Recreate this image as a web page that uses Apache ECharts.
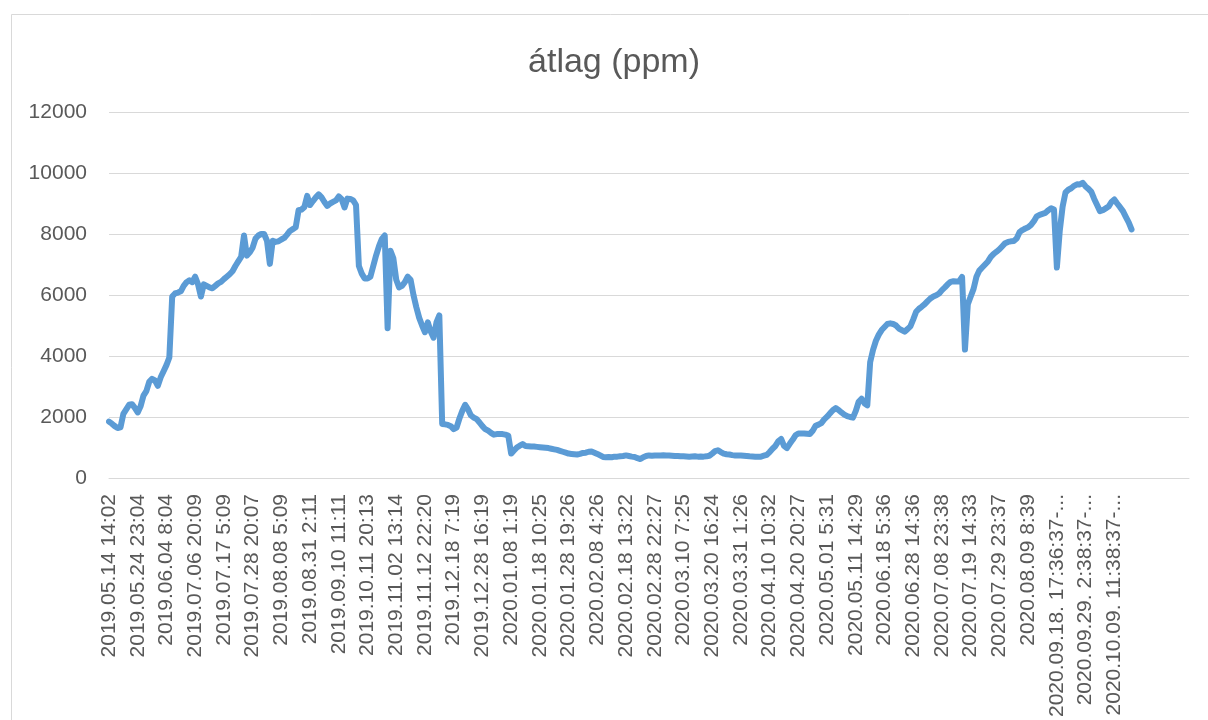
<!DOCTYPE html>
<html>
<head>
<meta charset="utf-8">
<script src="https://cdn.jsdelivr.net/npm/echarts@6/dist/echarts.min.js"></script>
<style>
html,body{margin:0;padding:0;background:#fff;}
#chart{width:1208px;height:720px;}
</style>
</head>
<body>
<div id="chart"></div>
<script>
const titleText = 'átlag (ppm)';
const tickLabels = [
  '2019.05.14 14:02','2019.05.24 23:04','2019.06.04 8:04','2019.07.06 20:09','2019.07.17 5:09',
  '2019.07.28 20:07','2019.08.08 5:09','2019.08.31 2:11','2019.09.10 11:11','2019.10.11 20:13',
  '2019.11.02 13:14','2019.11.12 22:20','2019.12.18 7:19','2019.12.28 16:19','2020.01.08 1:19',
  '2020.01.18 10:25','2020.01.28 19:26','2020.02.08 4:26','2020.02.18 13:22','2020.02.28 22:27',
  '2020.03.10 7:25','2020.03.20 16:24','2020.03.31 1:26','2020.04.10 10:32','2020.04.20 20:27',
  '2020.05.01 5:31','2020.05.11 14:29','2020.06.18 5:36','2020.06.28 14:36','2020.07.08 23:38',
  '2020.07.19 14:33','2020.07.29 23:37','2020.08.09 8:39','2020.09.18. 17:36:37-...',
  '2020.09.29. 2:38:37-...','2020.10.09. 11:38:37-...'
];
const pointsPerLabel = 10;
const totalSlots = 377;
const ppm = [
  1850,1780,1700,1640,1660,2100,2250,2400,2420,2300,
  2150,2350,2700,2850,3150,3250,3200,3020,3300,3500,
  3700,3950,5950,6050,6080,6120,6300,6420,6480,6420,
  6600,6350,5950,6350,6300,6250,6220,6300,6380,6430,
  6520,6600,6680,6780,6950,7100,7250,7950,7290,7400,
  7550,7850,7950,8000,8000,7780,7020,7780,7740,7760,
  7820,7870,7980,8100,8160,8220,8780,8800,8880,9250,
  8950,9080,9200,9300,9200,9050,8920,9000,9050,9100,
  9230,9140,8870,9160,9150,9100,8950,6950,6700,6540,
  6540,6600,6950,7300,7600,7840,7950,4910,7450,7200,
  6500,6250,6300,6420,6600,6500,6000,5600,5250,5000,
  4780,5100,4800,4600,5100,5330,1770,1760,1740,1700,
  1600,1650,1950,2200,2400,2250,2050,1980,1930,1820,
  1700,1600,1550,1480,1420,1440,1440,1440,1420,1390,
  800,900,1000,1060,1110,1050,1040,1030,1030,1020,
  1010,1000,990,980,960,940,920,890,860,830,
  800,790,780,770,790,820,830,860,870,830,
  790,740,690,680,690,680,700,700,715,720,
  740,720,700,690,650,620,680,720,740,730,
  740,735,740,745,740,740,730,720,720,710,
  710,705,700,705,710,700,705,700,710,730,
  800,880,910,850,800,780,770,750,740,740,
  740,730,720,710,705,700,700,700,730,760,
  850,960,1050,1200,1280,1050,980,1120,1250,1400,
  1460,1460,1460,1450,1440,1550,1710,1750,1800,1920,
  2010,2120,2220,2290,2230,2150,2080,2030,2000,1980,
  2200,2500,2600,2450,2380,3800,4200,4500,4700,4850,
  4950,5050,5070,5050,5000,4900,4850,4800,4880,4970,
  5200,5450,5550,5620,5700,5800,5890,5950,5990,6050,
  6160,6250,6350,6430,6450,6440,6450,6590,4210,5700,
  5950,6200,6600,6800,6900,7000,7100,7250,7350,7420,
  7500,7600,7700,7740,7760,7770,7850,8060,8130,8180,
  8220,8300,8420,8580,8630,8660,8690,8780,8840,8800,
  6900,8100,8900,9360,9450,9500,9580,9630,9620,9680,
  9560,9480,9380,9150,8950,8750,8780,8840,8900,9050,
  9130,9000,8880,8750,8560,8380,8150
];
const yTicks = {min: 0, max: 12000, interval: 2000};

const categories = [];
for (let i = 0; i < totalSlots; i++) {
  const k = i / pointsPerLabel;
  categories.push(i % pointsPerLabel === 0 && tickLabels[k] !== undefined ? tickLabels[k] : '');
}

const font = '"Liberation Sans", Arial, sans-serif';
const chart = echarts.init(document.getElementById('chart'), null, {renderer: 'canvas'});
chart.setOption({
  animation: false,
  backgroundColor: '#ffffff',
  graphic: [{
    type: 'rect', left: 9, top: 12, silent: true,
    shape: {width: 1320, height: 800},
    style: {fill: 'none', stroke: '#d9d9d9', lineWidth: 1}
  }],
  title: {
    text: titleText,
    left: 609, top: 41, textAlign: 'center',
    textStyle: {color: '#595959', fontSize: 34, fontWeight: 'normal', fontFamily: font}
  },
  grid: {left: 109, right: 19, top: 112, bottom: 239, containLabel: false},
  xAxis: {
    type: 'category',
    data: categories,
    boundaryGap: false,
    axisLine: {show: true, lineStyle: {color: '#d9d9d9', width: 1}},
    axisTick: {show: false},
    splitLine: {show: false},
    axisLabel: {
      interval: 0, rotate: 90, margin: 16,
      color: '#595959', fontSize: 21, fontFamily: font
    }
  },
  yAxis: {
    type: 'value',
    min: yTicks.min, max: yTicks.max, interval: yTicks.interval,
    axisLine: {show: false},
    axisTick: {show: false},
    splitLine: {show: true, lineStyle: {color: '#d9d9d9', width: 1}},
    axisLabel: {color: '#595959', fontSize: 21, fontFamily: font, margin: 22,
      formatter: function (v) { return String(v); }}
  },
  series: [{
    type: 'line',
    data: ppm,
    showSymbol: false,
    symbol: 'none',
    connectNulls: false,
    lineStyle: {color: '#5b9bd5', width: 6, cap: 'round', join: 'round'},
    itemStyle: {color: '#5b9bd5'}
  }]
});
</script>
</body>
</html>
